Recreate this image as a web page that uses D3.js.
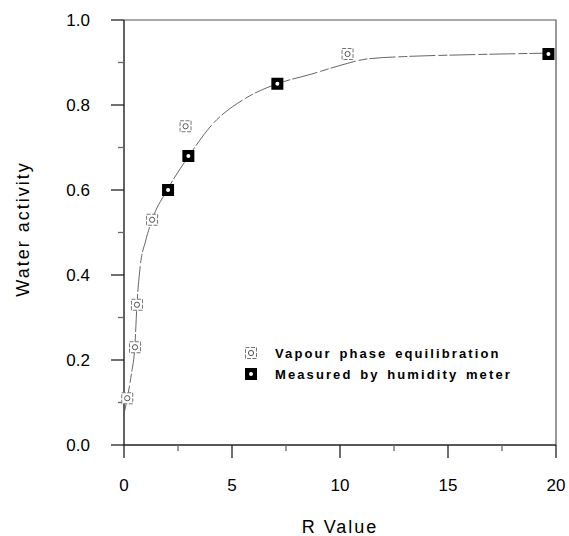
<!DOCTYPE html>
<html lang="en">
<head>
  <meta charset="UTF-8">
  <script src="https://d3js.org/d3.v7.min.js"></script>
  <title>Water activity vs R value</title>
  <style>
    body { margin: 0; background: white; }
    text { font-family: "Liberation Sans", Arial, sans-serif; fill: #000; }
    .tick-label { font-size: 17px; }
    .axis-title { font-size: 18px; letter-spacing: 2px; }
    .legend text { font-size: 13px; letter-spacing: 2.1px; word-spacing: 2px; font-weight: bold; }
  </style>
</head>
<body>
  <div id="chart"></div>
  <script>
    // data
    const vapourPoints = [
      [0.15, 0.11], [0.51, 0.23], [0.6, 0.33], [1.3, 0.53], [2.85, 0.75], [10.35, 0.92]
    ];
    const meterPoints = [
      [2.04, 0.60], [2.98, 0.68], [7.1, 0.85], [19.65, 0.92]
    ];
    const fitCurve = [
      [0.03, 0.08], [0.15, 0.11], [0.35, 0.17], [0.5, 0.23], [0.6, 0.33], [0.75, 0.42],
      [1.0, 0.48], [1.3, 0.53], [2.0, 0.60], [3.0, 0.68], [4.1, 0.755], [5.6, 0.815],
      [7.1, 0.85], [8.7, 0.873], [10.0, 0.893], [11.2, 0.908], [13.0, 0.914],
      [15.7, 0.918], [19.6, 0.922]
    ];
    const xTicks = [0, 5, 10, 15, 20];
    const xMinor = [2.5, 7.5, 12.5, 17.5];
    const yTicks = [0, 0.2, 0.4, 0.6, 0.8, 1.0];
    const yMinor = [0.1, 0.3, 0.5, 0.7, 0.9];
    const legendLabels = ["Vapour phase equilibration", "Measured by humidity meter"];

    const W = 569, H = 536;
    const x = d3.scaleLinear().domain([0, 20]).range([124, 556]);
    const y = d3.scaleLinear().domain([0, 1]).range([445, 20]);

    const svg = d3.select("#chart").append("svg")
      .attr("width", W).attr("height", H);

    // frame
    svg.append("path")
      .attr("d", `M${x(0)},${y(1)}H${x(20)}V${y(0)}`)
      .attr("fill", "none").attr("stroke", "#555").attr("stroke-width", 1.2);
    svg.append("path")
      .attr("d", `M${x(0)},${y(1)}V${y(0)}H${x(20)}`)
      .attr("fill", "none").attr("stroke", "#222").attr("stroke-width", 1.4);

    // ticks
    const ticks = svg.append("g").attr("stroke", "#222").attr("stroke-width", 1.3);
    ticks.selectAll(".xmaj").data(xTicks).enter().append("line")
      .attr("x1", d => x(d)).attr("x2", d => x(d)).attr("y1", y(0)).attr("y2", y(0) + 13);
    ticks.selectAll(".xmin").data(xMinor).enter().append("line")
      .attr("x1", d => x(d)).attr("x2", d => x(d)).attr("y1", y(0)).attr("y2", y(0) + 6)
      .attr("stroke", "#666");
    ticks.selectAll(".ymaj").data(yTicks).enter().append("line")
      .attr("y1", d => y(d)).attr("y2", d => y(d)).attr("x1", x(0)).attr("x2", x(0) - 13);
    ticks.selectAll(".ymin").data(yMinor).enter().append("line")
      .attr("y1", d => y(d)).attr("y2", d => y(d)).attr("x1", x(0)).attr("x2", x(0) - 6)
      .attr("stroke", "#666");

    svg.selectAll(".xlab").data(xTicks).enter().append("text")
      .attr("class", "tick-label").attr("text-anchor", "middle")
      .attr("x", d => x(d)).attr("y", 491).text(d3.format("d"));
    svg.selectAll(".ylab").data(yTicks).enter().append("text")
      .attr("class", "tick-label").attr("text-anchor", "end")
      .attr("x", 90).attr("y", d => y(d)).attr("dy", "0.36em").text(d3.format(".1f"));

    // titles
    svg.append("text").attr("class", "axis-title")
      .attr("x", 340).attr("y", 533).attr("text-anchor", "middle").text("R Value");
    svg.append("text").attr("class", "axis-title")
      .attr("transform", `translate(29,229) rotate(-90)`)
      .attr("text-anchor", "middle").text("Water activity");

    // fitted line
    const line = d3.line().x(d => x(d[0])).y(d => y(d[1])).curve(d3.curveMonotoneX);
    svg.append("path").datum(fitCurve)
      .attr("d", line).attr("fill", "none")
      .attr("stroke", "#555").attr("stroke-width", 0.9)
      .attr("stroke-dasharray", "26,3,9,2");

    // markers
    function vapourMark(g, cx, cy) {
      g.append("rect").attr("x", cx - 5.5).attr("y", cy - 5.5).attr("width", 11).attr("height", 11)
        .attr("fill", "white").attr("stroke", "#777").attr("stroke-width", 1)
        .attr("stroke-dasharray", "4,1.5");
      g.append("circle").attr("cx", cx).attr("cy", cy).attr("r", 2.6)
        .attr("fill", "none").attr("stroke", "#555").attr("stroke-width", 1);
    }
    function meterMark(g, cx, cy) {
      g.append("rect").attr("x", cx - 6).attr("y", cy - 6).attr("width", 12).attr("height", 12)
        .attr("fill", "#000");
      g.append("circle").attr("cx", cx).attr("cy", cy).attr("r", 2).attr("fill", "white");
    }

    const pts = svg.append("g");
    vapourPoints.forEach(d => vapourMark(pts, x(d[0]), y(d[1])));
    meterPoints.forEach(d => meterMark(pts, x(d[0]), y(d[1])));

    // legend
    const legend = svg.append("g").attr("class", "legend");
    vapourMark(legend, 251, 353);
    meterMark(legend, 251, 374);
    legend.selectAll("text").data(legendLabels).enter().append("text")
      .attr("x", 275).attr("y", (d, i) => 353 + i * 21).attr("dy", "0.35em")
      .text(d => d);
  </script>
</body>
</html>
